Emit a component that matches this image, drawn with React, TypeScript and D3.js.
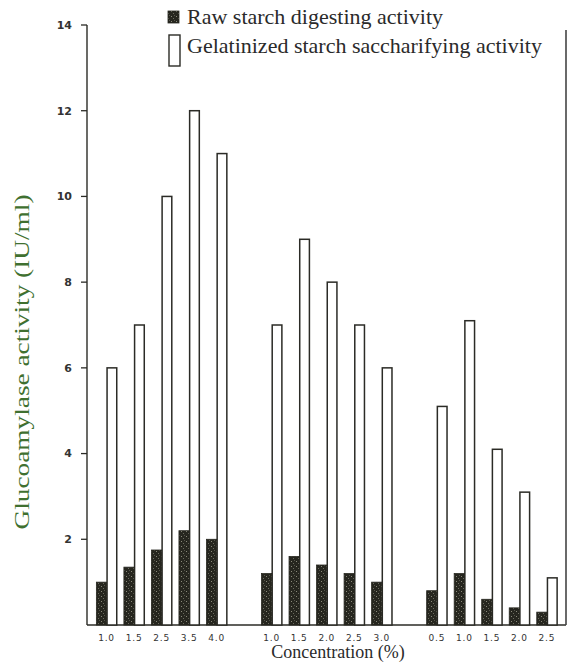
import React from "react";
import * as d3 from "d3";

// ---- data ----
const groupLabels1 = ["1.0", "1.5", "2.5", "3.5", "4.0"];
const groupLabels2 = ["1.0", "1.5", "2.0", "2.5", "3.0"];
const groupLabels3 = ["0.5", "1.0", "1.5", "2.0", "2.5"];

const rawG1 = [1.0, 1.35, 1.75, 2.2, 2.0];
const gelG1 = [6.0, 7.0, 10.0, 12.0, 11.0];
const rawG2 = [1.2, 1.6, 1.4, 1.2, 1.0];
const gelG2 = [7.0, 9.0, 8.0, 7.0, 6.0];
const rawG3 = [0.8, 1.2, 0.6, 0.4, 0.3];
const gelG3 = [5.1, 7.1, 4.1, 3.1, 1.1];

const yTicks = [2, 4, 6, 8, 10, 12, 14];

const legendLabels = [
  "Raw starch digesting activity",
  "Gelatinized starch saccharifying activity",
];
const yTitle = "Glucoamylase activity (IU/ml)";
const xTitle = "Concentration (%)";

type Item = { key: string; label: string; raw: number; gel: number };

function buildItems(): Item[] {
  const groups = [
    { id: "a", labels: groupLabels1, raw: rawG1, gel: gelG1 },
    { id: "b", labels: groupLabels2, raw: rawG2, gel: gelG2 },
    { id: "c", labels: groupLabels3, raw: rawG3, gel: gelG3 },
  ];
  const items: Item[] = [];
  groups.forEach((g, gi) => {
    g.labels.forEach((l, i) =>
      items.push({ key: g.id + i, label: l, raw: g.raw[i], gel: g.gel[i] })
    );
    if (gi < groups.length - 1)
      items.push({ key: "gap" + gi, label: "", raw: NaN, gel: NaN });
  });
  return items;
}

export default function App() {
  const W = 570;
  const H = 662;
  const items = buildItems();

  const axisX = 87;
  const x = d3
    .scaleBand<string>()
    .domain(items.map((d) => d.key))
    .range([92.8, 560.7])
    .paddingInner(0.26)
    .paddingOuter(0.13);
  const y = d3.scaleLinear().domain([0, 14]).range([625, 25]);

  const bw = x.bandwidth();
  const half = bw / 2;
  const ink = "#2b2b26";
  const bars = items.filter((d) => !isNaN(d.raw));

  return (
    <svg width={W} height={H} style={{ position: "absolute", left: 0, top: 0, background: "#fff" }}>
      <defs>
        <pattern id="speck" width="5" height="5" patternUnits="userSpaceOnUse">
          <rect width="5" height="5" fill="#26261f" />
          <rect x="1" y="1" width="1" height="1" fill="#8a8a7a" />
          <rect x="3" y="3" width="1" height="1" fill="#6d6d60" />
          <rect x="4" y="0" width="1" height="1" fill="#55554a" />
        </pattern>
      </defs>
      <rect width={W} height={H} fill="#fff" />

      {/* y axis */}
      <line x1={axisX} x2={axisX} y1={y(14)} y2={y(0)} stroke={ink} strokeWidth={1.4} />
      {yTicks.map((t) => (
        <g key={t}>
          <line x1={axisX - 6} x2={axisX} y1={y(t)} y2={y(t)} stroke={ink} strokeWidth={1.3} />
          <text
            x={axisX - 15}
            y={y(t)}
            dy="0.35em"
            textAnchor="end"
            fontFamily="DejaVu Sans, sans-serif"
            fontSize={11}
            fontWeight="bold"
            fill="#333"
          >
            {t}
          </text>
        </g>
      ))}

      {/* baseline */}
      <line x1={axisX} x2={566} y1={y(0)} y2={y(0)} stroke={ink} strokeWidth={1.4} />
      {/* right border */}
      <line x1={566} x2={566} y1={30} y2={y(0)} stroke="#444" strokeWidth={1.6} />

      {/* bars */}
      {bars.map((d) => {
        const x0 = x(d.key)!;
        return (
          <g key={d.key}>
            <rect
              x={x0 + half + 0.5}
              y={y(d.gel)}
              width={half - 0.5}
              height={y(0) - y(d.gel)}
              fill="#fff"
              stroke={ink}
              strokeWidth={1.5}
            />
            <rect
              x={x0}
              y={y(d.raw)}
              width={half}
              height={y(0) - y(d.raw)}
              fill="url(#speck)"
              stroke="#26261f"
              strokeWidth={0.8}
            />
            <text
              x={x0 + half}
              y={641}
              textAnchor="middle"
              fontFamily="DejaVu Sans, sans-serif"
              fontSize={9}
              letterSpacing={0.8}
              fill="#333"
            >
              {d.label}
            </text>
          </g>
        );
      })}

      {/* legend */}
      <rect x={168} y={11} width={11} height={12} fill="url(#speck)" stroke="#26261f" strokeWidth={0.8} />
      <text x={187} y={24} fontFamily="Liberation Serif, serif" fontSize={22} fill="#2a2a2a">
        {legendLabels[0]}
      </text>
      <rect x={169} y={35} width={11} height={31} fill="#fff" stroke={ink} strokeWidth={1.4} />
      <text x={187} y={53} fontFamily="Liberation Serif, serif" fontSize={22} fill="#2a2a2a">
        {legendLabels[1]}
      </text>

      {/* axis titles */}
      <text
        transform={`translate(29,362) rotate(-90)`}
        textAnchor="middle"
        fontFamily="Liberation Serif, serif"
        fontSize={21}
        textLength={335}
        lengthAdjust="spacingAndGlyphs"
        fill="#3f7030"
      >
        {yTitle}
      </text>
      <text
        x={338}
        y={658}
        textAnchor="middle"
        fontFamily="Liberation Serif, serif"
        fontSize={18}
        fill="#2a2a2a"
      >
        {xTitle}
      </text>
    </svg>
  );
}
